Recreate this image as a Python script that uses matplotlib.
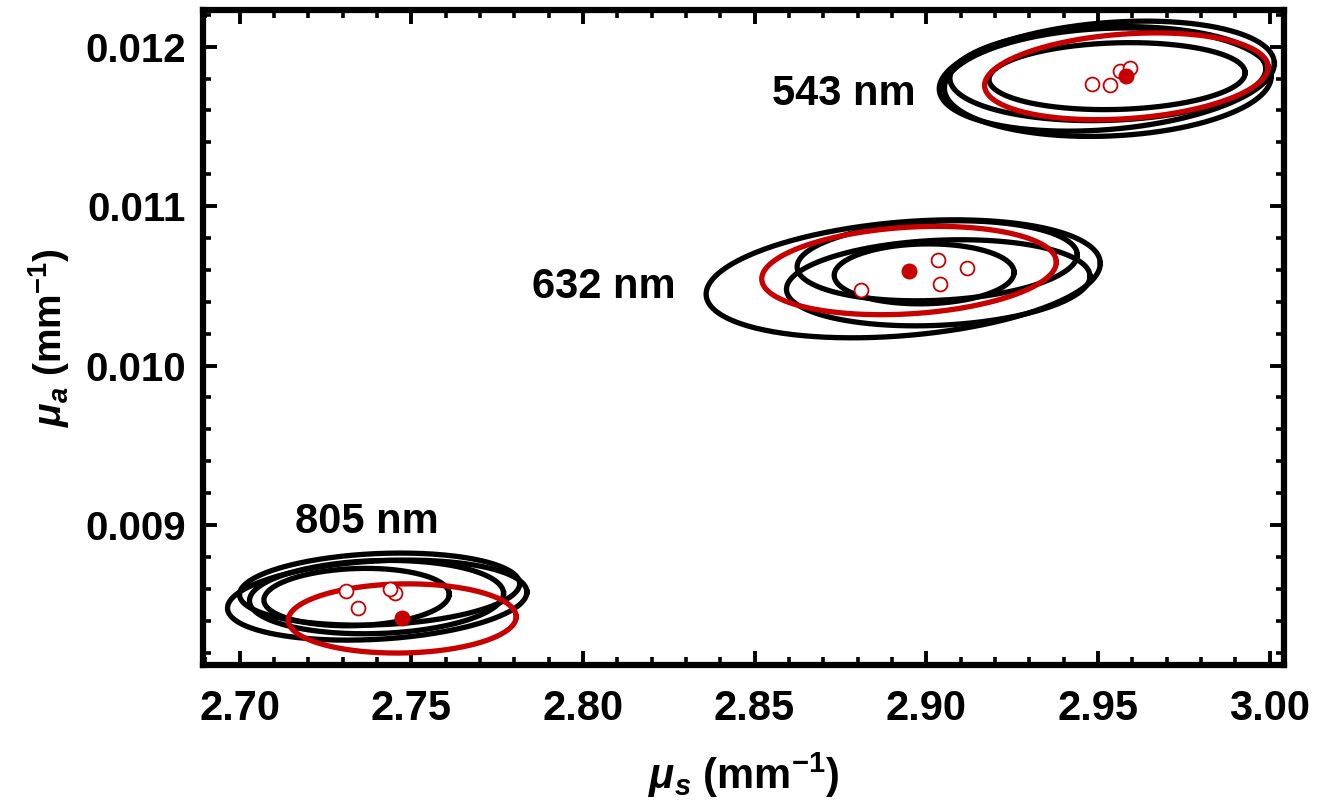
import numpy as np
import matplotlib
matplotlib.use("Agg")
import matplotlib.pyplot as plt
from matplotlib.ticker import MultipleLocator, FormatStrFormatter

plt.rcParams['font.family'] = ['Liberation Sans', 'DejaVu Sans']
plt.rcParams['font.weight'] = 'bold'
plt.rcParams['mathtext.fontset'] = 'custom'
plt.rcParams['mathtext.rm'] = 'Liberation Sans:bold'
plt.rcParams['mathtext.it'] = 'Liberation Sans:bold:italic'
plt.rcParams['mathtext.bf'] = 'Liberation Sans:bold'

# wavelength labels
labels = ['543 nm', '632 nm', '805 nm']
label_s = [2.876, 2.806, 2.737]
label_a = [0.01170, 0.01049, 0.00902]

# black ellipses: centre, half extents, tilt
black_s = [2.9556, 2.9526, 2.9529, 2.9529,
           2.8994, 2.9032, 2.9035, 2.8933,
           2.7401, 2.7408, 2.7399, 2.7341]
black_a = [0.011815, 0.011815, 0.011777, 0.011831,
           0.010575, 0.010657, 0.010519, 0.010544,
           0.008529, 0.008598, 0.008548, 0.008548]
black_ws = [0.0373, 0.0488, 0.0476, 0.0460,
            0.0262, 0.0408, 0.0442, 0.0574,
            0.0436, 0.0408, 0.0370, 0.0270]
black_wa = [0.000210, 0.000345, 0.000340, 0.000295,
            0.000188, 0.000251, 0.000270, 0.000370,
            0.000251, 0.000226, 0.000230, 0.000180]
black_rho = [0.10, 0.23, 0.11, 0.10,
             0.05, 0.15, 0.15, 0.26,
             0.20, 0.15, 0.10, 0.10]

# red ellipses (one per wavelength)
red_s = [2.9583, 2.8950, 2.7474]
red_a = [0.011814, 0.010596, 0.008414]
red_ws = [0.0413, 0.0429, 0.0332]
red_wa = [0.000272, 0.000277, 0.000217]
red_rho = [0.21, 0.19, 0.05]

# open red circles
open_s = [2.9483, 2.9536, 2.9563, 2.9595,
          2.9033, 2.9119, 2.9039, 2.8810,
          2.7309, 2.7452, 2.7437, 2.7345]
open_a = [0.011768, 0.011762, 0.011849, 0.011866,
          0.010659, 0.010611, 0.010511, 0.010471,
          0.008588, 0.008571, 0.008596, 0.008477]

RED = '#C80000'


def ellipse(cs, ca, ws, wa, rho, n=300):
    t = np.linspace(0, 2 * np.pi, n)
    x = cs + ws * np.cos(t)
    y = ca + wa * (rho * np.cos(t) + np.sqrt(1 - rho ** 2) * np.sin(t))
    return x, y


fig = plt.figure(figsize=(13.34, 8.10), dpi=100)
ax = fig.add_axes([0.152, 0.179, 0.8105, 0.8087])

for i in range(len(black_s)):
    x, y = ellipse(black_s[i], black_a[i], black_ws[i], black_wa[i], black_rho[i])
    ax.plot(x, y, color='black', lw=3.8)

for i in range(len(red_s)):
    x, y = ellipse(red_s[i], red_a[i], red_ws[i], red_wa[i], red_rho[i])
    ax.plot(x, y, color=RED, lw=3.8)

ax.plot(open_s, open_a, 'o', ms=10, mfc='white', mec=RED, mew=1.3, ls='none')
ax.plot(red_s, red_a, 'o', ms=10.5, color=RED, ls='none')

for lab, xs, ya in zip(labels, label_s, label_a):
    ax.text(xs, ya, lab, fontsize=30, fontweight='bold', ha='center', va='center')

ax.set_xlim(2.6893, 3.0042)
ax.set_ylim(0.008122, 0.012230)

ax.xaxis.set_major_locator(MultipleLocator(0.05))
ax.xaxis.set_minor_locator(MultipleLocator(0.01))
ax.yaxis.set_major_locator(MultipleLocator(0.001))
ax.yaxis.set_minor_locator(MultipleLocator(0.0002))
ax.xaxis.set_major_formatter(FormatStrFormatter('%.2f'))
ax.yaxis.set_major_formatter(FormatStrFormatter('%.3f'))

ax.tick_params(which='both', direction='in', top=True, right=True)
ax.tick_params(which='major', length=10, width=2.8)
ax.tick_params(which='minor', length=5.5, width=2.6)
ax.tick_params(axis='x', which='major', pad=17)
ax.tick_params(axis='y', which='major', pad=12)
for lab in ax.get_xticklabels():
    lab.set_fontsize(30)
    lab.set_fontweight('bold')
for lab in ax.get_yticklabels():
    lab.set_fontsize(29)
    lab.set_fontweight('bold')

for sp in ax.spines.values():
    sp.set_linewidth(4.5)

ax.set_xlabel(r'$\mu_s$ (mm$^{-1}$)', fontsize=30, fontweight='bold', labelpad=16)
ax.set_ylabel(r'$\mu_a$ (mm$^{-1}$)', fontsize=28, fontweight='bold', labelpad=10)

fig.savefig('out.png', dpi=100)
